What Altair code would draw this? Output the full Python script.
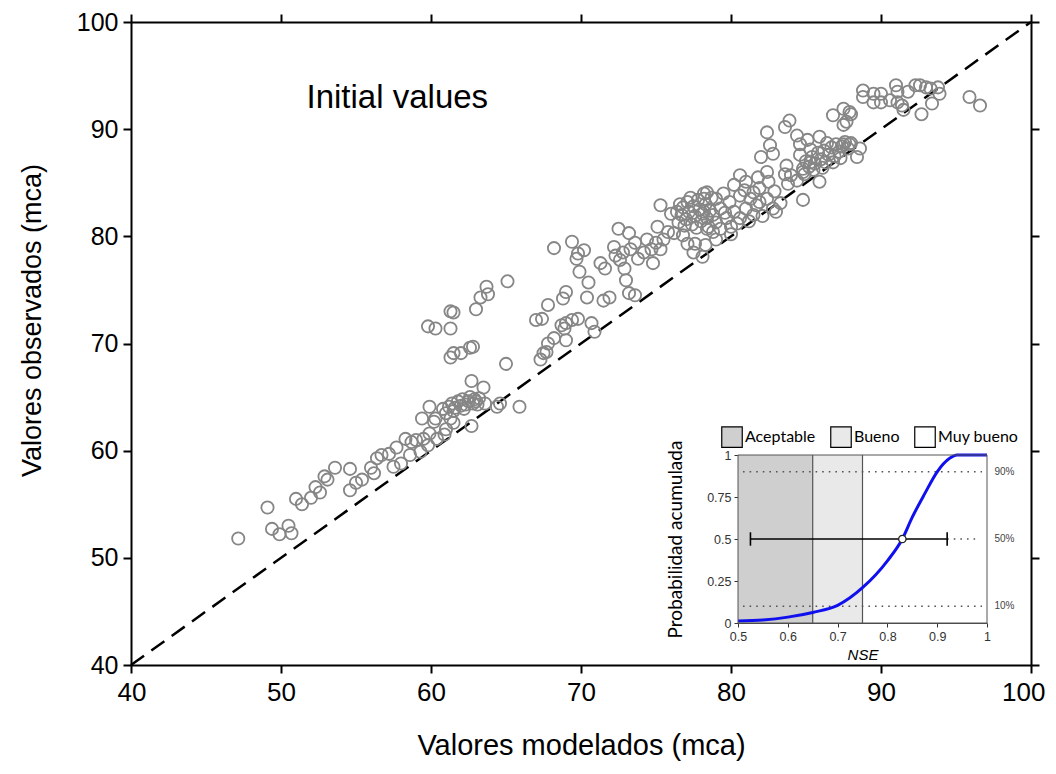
import altair as alt
import pandas as pd

# ---------------- main scatter data (modelados, observados) ----------------
pts_low = [
    [47.15, 51.8], [49.1, 54.7], [49.4, 52.7], [49.9, 52.2], [50.5, 53.0], [50.7, 52.3],
    [51.0, 55.5], [51.4, 55.0], [52.0, 55.6], [52.3, 56.6], [52.6, 56.1], [52.9, 57.6],
    [53.1, 57.3], [53.6, 58.4], [54.6, 58.3], [54.6, 56.3], [55.0, 57.0], [55.4, 57.3],
    [56.0, 58.4], [56.2, 57.9], [56.4, 59.3], [56.7, 59.6], [57.2, 59.7], [57.5, 58.5],
    [58.0, 58.8], [57.7, 60.3], [58.3, 61.1], [58.6, 59.6], [58.7, 60.8], [59.0, 61.0],
    [59.3, 59.9], [59.4, 63.0], [59.9, 64.1], [59.5, 61.1], [59.9, 61.6], [60.2, 62.7],
    [60.4, 61.1], [59.8, 60.5], [61.0, 62.0], [61.5, 62.6], [60.9, 61.5], [61.3, 63.0],
]
pts_mid = [
    [65.1, 75.8], [63.7, 75.3], [63.8, 74.6], [63.3, 74.3], [63.0, 73.2], [61.3, 73.0],
    [61.5, 72.9], [59.8, 71.6], [60.3, 71.4], [61.3, 71.4], [61.3, 68.7], [61.5, 69.1],
    [62.0, 69.1], [62.6, 69.6], [62.8, 69.7], [65.0, 68.1], [62.7, 66.5], [63.5, 65.9],
    [63.6, 64.4], [64.4, 64.1], [64.6, 64.4], [65.9, 64.1], [62.7, 62.3], [60.3, 63.0],
    [67.3, 68.5], [67.7, 69.2], [67.0, 72.2], [67.4, 72.3], [67.8, 73.6],
]
pts_cluster64 = [
    [61.2, 64.1], [61.4, 64.4], [61.6, 64.0], [61.8, 64.6], [62.0, 64.2], [62.1, 64.8],
    [62.3, 64.3], [62.5, 64.6], [62.6, 65.0], [62.8, 64.4], [62.9, 64.8], [63.1, 64.3],
    [63.2, 64.9], [61.5, 63.7], [62.2, 63.9], [61.0, 63.5], [60.8, 63.9], [63.0, 64.6],
]
pts_upper_mid = [
    [68.2, 78.9], [69.4, 79.5], [69.8, 78.4], [69.7, 77.9], [70.2, 78.7], [69.9, 76.7],
    [70.5, 75.7], [70.4, 74.3], [69.0, 74.8], [68.8, 74.2], [68.7, 71.7], [69.0, 71.9],
    [69.4, 72.2], [69.8, 72.3], [68.9, 71.4], [68.2, 70.5], [67.8, 70.0], [67.5, 69.1],
    [70.7, 71.9], [70.9, 71.1], [69.0, 70.3], [71.5, 74.0], [71.9, 74.3], [71.3, 77.5],
    [71.6, 77.0], [72.2, 79.0], [72.5, 80.7], [73.2, 80.3], [72.3, 78.2], [72.6, 77.8],
    [72.8, 78.5], [72.9, 77.0], [73.0, 75.9], [73.2, 74.7], [73.6, 74.5], [73.3, 78.8],
    [73.6, 79.4], [73.8, 77.9], [74.2, 78.5], [74.4, 79.7], [74.7, 78.8], [74.8, 77.5],
    [75.1, 80.9], [75.0, 79.4], [75.3, 78.8], [75.5, 79.7], [75.3, 82.9], [75.8, 80.4],
    [76.2, 80.3], [76.4, 82.3], [76.0, 82.1], [76.8, 80.1], [77.1, 79.3], [77.6, 79.3],
    [77.5, 78.5], [78.1, 78.1], [78.3, 79.2], [78.4, 84.1], [78.8, 80.4], [79.0, 83.5],
]
pts_cluster82 = [
    [76.5, 81.3], [76.7, 82.0], [76.8, 82.7], [77.0, 81.6], [77.1, 83.2], [77.2, 82.3],
    [77.4, 81.1], [77.5, 82.8], [77.6, 81.9], [77.8, 83.4], [77.9, 82.5], [78.0, 81.4],
    [78.1, 82.1], [78.3, 83.0], [78.4, 81.7], [78.6, 82.4], [78.7, 83.6], [76.9, 81.0],
    [77.3, 83.6], [78.2, 84.0], [76.6, 83.0], [77.7, 80.8], [78.5, 80.9],
]
pts_high = [
    [80.6, 85.7], [80.2, 84.8], [81.0, 85.1], [81.8, 85.5], [82.4, 86.0], [82.5, 85.1],
    [81.9, 84.5], [81.5, 84.1], [80.6, 83.8], [79.9, 83.2], [79.3, 82.6], [78.8, 82.0],
    [80.2, 82.3], [81.0, 82.6], [81.9, 83.2], [82.4, 83.5], [82.8, 82.6], [83.3, 83.1],
    [83.0, 82.3], [81.5, 82.0], [80.6, 81.7], [79.7, 81.7], [79.3, 80.7], [78.4, 80.7],
    [78.2, 82.3], [78.2, 83.5], [82.4, 89.7], [82.6, 88.5], [82.0, 87.4], [82.8, 87.7],
    [83.6, 90.2], [83.9, 90.8], [84.4, 89.4], [84.6, 88.6], [85.1, 89.0], [85.9, 89.3],
    [84.6, 87.6], [83.7, 86.6], [83.6, 85.8], [84.0, 85.7], [83.8, 84.9], [84.4, 85.2],
    [84.8, 86.0], [85.3, 86.9], [84.8, 83.4], [85.9, 85.1], [88.4, 87.4], [88.6, 88.2],
    [86.8, 91.3], [87.5, 91.9], [87.7, 90.7], [88.0, 91.4], [87.5, 90.4],
    [79.0, 81.3], [79.6, 82.2], [80.0, 80.9], [80.4, 81.2], [81.2, 81.4], [81.7, 82.9],
    [82.1, 81.9], [80.9, 84.3], [79.5, 84.0], [81.3, 83.5], [82.9, 84.2], [79.0, 79.7],
    [80.0, 80.2],
]
pts_cluster87 = [
    [84.8, 86.3], [85.0, 87.0], [85.2, 86.5], [85.4, 87.4], [85.6, 86.8], [85.8, 87.8],
    [86.0, 87.2], [86.2, 88.0], [86.3, 86.9], [86.5, 87.6], [86.7, 88.3], [86.9, 87.5],
    [87.0, 88.6], [87.2, 87.9], [87.4, 88.4], [87.6, 88.8], [87.8, 88.2], [88.0, 88.7],
    [85.5, 86.2], [86.1, 86.4], [84.9, 85.8], [86.8, 86.9], [87.3, 87.3], [85.3, 88.1],
    [86.4, 88.7],
]
pts_top = [
    [88.8, 93.6], [88.8, 93.0], [89.5, 93.3], [89.5, 92.5], [90.0, 93.3], [90.0, 92.5],
    [90.6, 92.7], [91.0, 94.1], [91.1, 93.5], [91.1, 92.5], [91.4, 92.2], [91.8, 93.5],
    [91.5, 91.8], [92.3, 94.1], [92.6, 94.1], [93.0, 93.9], [93.3, 93.8], [93.8, 93.9],
    [93.9, 93.3], [93.4, 92.4], [92.7, 91.4], [95.9, 93.0], [96.6, 92.2], [87.9, 91.6],
    [87.5, 88.6], [87.9, 88.6],
]

all_pts = (pts_low + pts_mid + pts_cluster64 + pts_upper_mid + pts_cluster82
           + pts_high + pts_cluster87 + pts_top)
scatter_df = pd.DataFrame(all_pts, columns=["mod", "obs"])

diag = [40, 100]
main_ticks = [40, 50, 60, 70, 80, 90, 100]

# ---------------- inset data ----------------
zone_names = ["Aceptable", "Bueno", "Muy bueno"]
zone_start = [0.5, 0.65, 0.75]
zone_end = [0.65, 0.75, 1.0]
zone_colors = ["#cfcfcf", "#e9e9e9", "#ffffff"]
zone_bounds = [0.65, 0.75]

nse = [0.5, 0.55, 0.6, 0.65, 0.7, 0.75, 0.8, 0.83, 0.85, 0.875, 0.9, 0.925, 0.94, 0.96, 1.0]
prob = [0.012, 0.018, 0.035, 0.063, 0.105, 0.21, 0.37, 0.5, 0.63, 0.77, 0.9, 0.98, 1.0, 1.0, 1.0]

dot_levels = [0.9, 0.1, 0.5]
dot_start = [0.51, 0.51, 0.92]
dot_end = [0.99, 0.99, 0.985]
dot_labels = ["90%", "10%", "50%"]

ci_low, ci_high, median_nse = 0.525, 0.92, 0.83

inset_xticks = [0.5, 0.6, 0.7, 0.8, 0.9, 1.0]
inset_yticks = [0, 0.25, 0.5, 0.75, 1]
inset_minor = [round(0.05 * i, 2) for i in range(21)]

# ---------------- geometry ----------------
W, H = 900, 643
FONT = "Liberation Sans"

xm = alt.Scale(domain=[40, 100], nice=False, zero=False)
ym = alt.Scale(domain=[40, 100], nice=False, zero=False)
xi = alt.Scale(domain=[0.5, 1], range=[607, 856], nice=False, zero=False)
yi = alt.Scale(domain=[0, 1], range=[601, 433], nice=False, zero=False)

axis_common = dict(domainColor="black", domainWidth=2, tickColor="black", tickWidth=2,
                   tickSize=8, grid=False, labelFont=FONT, titleFont=FONT,
                   labelColor="black", titleColor="black", labelOverlap=False)

scatter = alt.Chart(scatter_df).mark_point(
    shape="circle", filled=False, size=150, strokeWidth=1.8, color="#868686", opacity=1
).encode(
    x=alt.X("mod:Q", scale=xm, axis=alt.Axis(
        orient="bottom", values=main_ticks, title="Valores modelados (mca)",
        labelFontSize=26, labelPadding=6, titleFontSize=29, titleFontWeight="normal",
        titlePadding=26, labelFlush=True, labelFlushOffset=14, **axis_common)),
    y=alt.Y("obs:Q", scale=ym, axis=alt.Axis(
        orient="left", values=main_ticks, title="Valores observados (mca)",
        labelFontSize=25, labelPadding=5, titleFontSize=27, titleFontWeight="normal",
        titlePadding=30, titleY=298, labelFlush=False, **axis_common)),
)

diag_df = pd.DataFrame({"v": diag})
diag_line = alt.Chart(diag_df).mark_line(
    color="black", strokeWidth=2.5, strokeDash=[16, 9]
).encode(
    x=alt.X("v:Q", scale=xm, axis=alt.Axis(orient="top", values=main_ticks, labels=False,
                                            title=None, **axis_common)),
    y=alt.Y("v:Q", scale=ym, axis=alt.Axis(orient="right", values=main_ticks, labels=False,
                                            title=None, **axis_common)),
)

label_df = pd.DataFrame({"x": [51.7], "y": [92.9], "t": ["Initial values"]})
label = alt.Chart(label_df).mark_text(
    font=FONT, fontSize=33, align="left", baseline="middle", color="black"
).encode(
    x=alt.X("x:Q", scale=xm, axis=None),
    y=alt.Y("y:Q", scale=ym, axis=None),
    text="t:N",
)

# inset background zones
zones_df = pd.DataFrame({"zona": zone_names, "a": zone_start, "b": zone_end,
                         "y0": [0] * 3, "y1": [1] * 3})
zones = alt.Chart(zones_df).mark_rect(opacity=1).encode(
    x=alt.X("a:Q", scale=xi, axis=None),
    x2="b:Q",
    y=alt.Y("y0:Q", scale=yi, axis=None),
    y2="y1:Q",
    fill=alt.Fill("zona:N", scale=alt.Scale(domain=zone_names, range=zone_colors),
                  legend=alt.Legend(orient="none", legendX=590, legendY=404,
                                    direction="horizontal", title=None,
                                    symbolType="square", symbolSize=420,
                                    symbolStrokeColor="black", symbolStrokeWidth=1.2,
                                    symbolOpacity=1, labelFont="Lato", labelFontSize=16,
                                    labelColor="black", labelOffset=2, columnPadding=12)),
)

bounds_df = pd.DataFrame({"b": zone_bounds, "y0": [0, 0], "y1": [1, 1]})
bounds = alt.Chart(bounds_df).mark_rule(color="#555555", strokeWidth=1.2).encode(
    x=alt.X("b:Q", scale=xi, axis=None),
    y=alt.Y("y0:Q", scale=yi, axis=None),
    y2="y1:Q",
)

dots_df = pd.DataFrame({"lvl": dot_levels, "a": dot_start, "b": dot_end})
dots = alt.Chart(dots_df).mark_rule(color="#555555", strokeWidth=1.6, strokeDash=[1.6, 5]).encode(
    x=alt.X("a:Q", scale=xi, axis=None),
    x2="b:Q",
    y=alt.Y("lvl:Q", scale=yi, axis=None),
)

ci_df = pd.DataFrame({"a": [ci_low], "b": [ci_high], "y": [0.5]})
ci = alt.Chart(ci_df).mark_rule(color="black", strokeWidth=1.6).encode(
    x=alt.X("a:Q", scale=xi, axis=None),
    x2="b:Q",
    y=alt.Y("y:Q", scale=yi, axis=None),
)
caps_df = pd.DataFrame({"x": [ci_low, ci_high], "y0": [0.46, 0.46], "y1": [0.54, 0.54]})
caps = alt.Chart(caps_df).mark_rule(color="black", strokeWidth=1.6).encode(
    x=alt.X("x:Q", scale=xi, axis=None),
    y=alt.Y("y0:Q", scale=yi, axis=None),
    y2="y1:Q",
)

inset_axis = dict(domainColor="#444444", domainWidth=1, tickColor="#333333", tickWidth=1,
                  tickSize=4, grid=False, labelFont=FONT, labelFontSize=12.5,
                  labelColor="#333333", titleColor="black", labelExpr="'' + datum.value",
                  labelFlush=False, labelOverlap=False)

curve_df = pd.DataFrame({"nse": nse, "p": prob})
curve = alt.Chart(curve_df).mark_line(color="#1010ee", strokeWidth=3, interpolate="monotone").encode(
    x=alt.X("nse:Q", scale=xi, axis=alt.Axis(
        orient="bottom", offset=-42, values=inset_xticks, title="NSE",
        titleFont=FONT, titleFontSize=15, titleFontStyle="italic", titleFontWeight="normal",
        titlePadding=5, labelPadding=3, **inset_axis)),
    y=alt.Y("p:Q", scale=yi, axis=alt.Axis(
        orient="left", offset=-607, values=inset_yticks, title="Probabilidad  acumulada",
        titleFont="Lato", titleFontSize=19, titleFontWeight="normal", titlePadding=21,
        labelPadding=3, **inset_axis)),
)

med_df = pd.DataFrame({"x": [median_nse], "y": [0.5]})
med = alt.Chart(med_df).mark_point(shape="circle", filled=True, fill="white", stroke="#222222",
                                   strokeWidth=1.3, size=55, opacity=1).encode(
    x=alt.X("x:Q", scale=xi, axis=None),
    y=alt.Y("y:Q", scale=yi, axis=None),
)

pct_df = pd.DataFrame({"x": [1.035] * 3, "y": dot_levels, "t": dot_labels})
pct = alt.Chart(pct_df).mark_text(font=FONT, fontSize=10, color="#444444", align="center",
                                  baseline="middle").encode(
    x=alt.X("x:Q", scale=xi, axis=None),
    y=alt.Y("y:Q", scale=yi, axis=None),
    text="t:N",
)

frame_df = pd.DataFrame({"a": [0.5], "b": [1.0], "y0": [0], "y1": [1]})
frame = alt.Chart(frame_df).mark_rect(fill=None, fillOpacity=0, stroke="#555555", strokeWidth=1).encode(
    x=alt.X("a:Q", scale=xi, axis=None),
    x2="b:Q",
    y=alt.Y("y0:Q", scale=yi, axis=alt.Axis(
        orient="left", offset=-610, values=inset_minor, labels=False, domain=False,
        title=None, tickSize=3, tickWidth=1, tickColor="#555555", grid=False)),
    y2="y1:Q",
)

chart = alt.layer(
    zones, bounds, dots, ci, caps, curve, med, pct, frame,
    diag_line, scatter, label,
).resolve_scale(
    x="independent", y="independent"
).properties(
    width=W, height=H,
    autosize=alt.AutoSizeParams(type="none"),
    padding={"left": 123, "top": 14, "right": 17, "bottom": 101},
    background="white",
).configure_view(stroke=None)

chart.save("out.html", embed_options={"renderer": "svg", "actions": False})
